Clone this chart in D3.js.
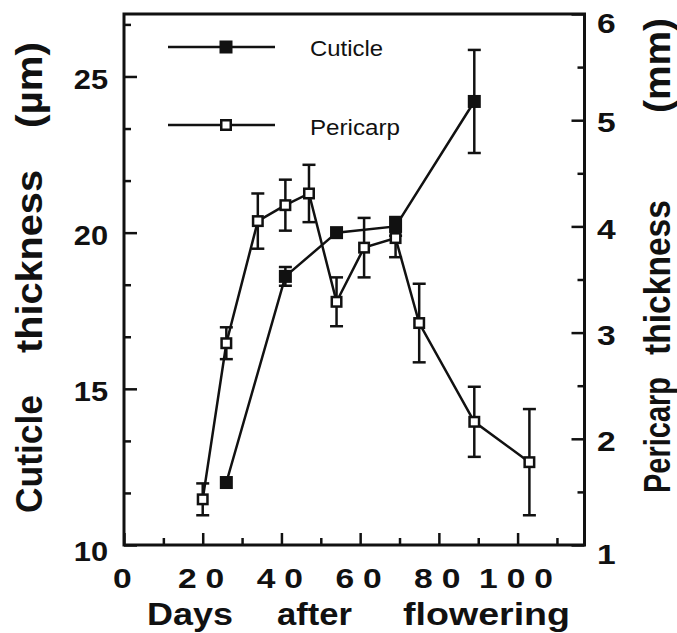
<!DOCTYPE html>
<html>
<head>
<meta charset="utf-8">
<script src="https://cdn.jsdelivr.net/npm/d3@7"></script>
<style>
  body { margin: 0; background: #fff; }
  svg { display: block; }
</style>
</head>
<body>
<svg id="chart" width="677" height="633"></svg>
<script>
// values
var pericarpDays = [20, 26, 34, 41, 47, 54, 61, 69, 75, 89, 103];
var pericarpMm   = [1.43, 2.90, 4.05, 4.20, 4.31, 3.29, 3.80, 3.89, 3.09, 2.16, 1.78];
var pericarpErr  = [0.15, 0.15, 0.26, 0.24, 0.27, 0.23, 0.28, 0.18, 0.37, 0.33, 0.50];

var cuticleDays = [26, 41, 54, 69, 89];
var cuticleUm   = [12.0, 18.6, 20.0, 20.2, 24.2];
var cuticleErr  = [0, 0.3, 0, 0.3, 1.65];

var xTicks = [0, 20, 40, 60, 80, 100];
var xMinor = [10, 30, 50, 70, 90, 110];
var leftTicks = [10, 15, 20, 25];
var leftMinor = [11.667, 13.333, 16.667, 18.333, 21.667, 23.333, 26.667];
var rightTicks = [1, 2, 3, 4, 5, 6];
var rightMinor = [1.5, 2.5, 3.5, 4.5, 5.5];

var font = "'Liberation Sans', Arial, Helvetica, sans-serif";

(function() {
    const svg = d3.select("#chart");

    // scales (plot box 124..584.5 x 14..545)
    const x = d3.scaleLinear().domain([0, 117]).range([124, 584.5]);
    const yL = d3.scaleLinear().domain([10, 27]).range([545, 14]);
    const yR = d3.scaleLinear().domain([1, 6]).range([545, 14]);

    // minor ticks first
    function minor(axis, ticks, size, tr) {
        const g = svg.append("g").attr("transform", tr)
            .call(axis.tickValues(ticks).tickSizeInner(-size).tickSizeOuter(0).tickFormat(""));
        g.select(".domain").remove();
        g.selectAll("line").attr("stroke", "#111").attr("stroke-width", 2.5);
    }
    minor(d3.axisBottom(x), xMinor, 7, "translate(0,545)");
    minor(d3.axisLeft(yL), leftMinor, 7, "translate(124,0)");
    minor(d3.axisRight(yR), rightMinor, 7, "translate(584.5,0)");

    // x axis
    const gx = svg.append("g").attr("transform", "translate(0,545)")
        .call(d3.axisBottom(x).tickValues(xTicks).tickFormat(d3.format("d"))
            .tickSizeInner(-12).tickSizeOuter(0).tickPadding(23));
    gx.select(".domain").remove();
    gx.selectAll("line").attr("stroke", "#111").attr("stroke-width", 2.5);
    gx.selectAll("text")
        .attr("font-family", font).attr("font-size", 28).attr("font-weight", "bold")
        .attr("fill", "#111")
        .attr("letter-spacing", 7.5)
        .attr("dx", 2)
        .attr("transform", "scale(1.2,1)");

    // left axis
    const gl = svg.append("g").attr("transform", "translate(124,0)")
        .call(d3.axisLeft(yL).tickValues(leftTicks).tickFormat(d3.format("d"))
            .tickSizeInner(-13).tickSizeOuter(0).tickPadding(16));
    gl.select(".domain").remove();
    gl.selectAll("line").attr("stroke", "#111").attr("stroke-width", 2.5);
    gl.selectAll("text")
        .attr("font-family", font).attr("font-size", 28).attr("font-weight", "bold")
        .attr("fill", "#111")
        .attr("x", -16 / 1.1)
        .attr("dy", d => d === 10 ? "0.55em" : "0.42em")
        .attr("transform", "scale(1.1,1)");

    // right axis
    const gr = svg.append("g").attr("transform", "translate(584.5,0)")
        .call(d3.axisRight(yR).tickValues(rightTicks).tickFormat(d3.format("d"))
            .tickSizeInner(-13).tickSizeOuter(0).tickPadding(12.5));
    gr.select(".domain").remove();
    gr.selectAll("line").attr("stroke", "#111").attr("stroke-width", 2.5);
    gr.selectAll("text")
        .attr("font-family", font).attr("font-size", 28).attr("font-weight", "bold")
        .attr("fill", "#111")
        .attr("x", 12.5 / 1.2)
        .attr("dy", d => (d === 6 || d === 1) ? "0.66em" : "0.42em")
        .attr("transform", "scale(1.2,1)");

    // frame
    svg.append("rect")
        .attr("x", x(0)).attr("y", yL(27))
        .attr("width", x(117) - x(0)).attr("height", yL(10) - yL(27))
        .attr("fill", "none").attr("stroke", "#111").attr("stroke-width", 3);

    const per = pericarpDays.map((d, i) => ({ d: d, v: pericarpMm[i], e: pericarpErr[i] }));
    const cut = cuticleDays.map((d, i) => ({ d: d, v: cuticleUm[i], e: cuticleErr[i] }));

    const lineP = d3.line().x(p => x(p.d)).y(p => yR(p.v));
    const lineC = d3.line().x(p => x(p.d)).y(p => yL(p.v));

    svg.append("path").datum(per).attr("d", lineP)
        .attr("fill", "none").attr("stroke", "#111").attr("stroke-width", 2.5);
    svg.append("path").datum(cut).attr("d", lineC)
        .attr("fill", "none").attr("stroke", "#111").attr("stroke-width", 2.5);

    function errorBars(data, y) {
        const g = svg.append("g").attr("stroke", "#111").attr("stroke-width", 2.5);
        const bars = g.selectAll("g").data(data.filter(p => p.e > 0)).enter().append("g");
        bars.append("line")
            .attr("x1", p => x(p.d)).attr("x2", p => x(p.d))
            .attr("y1", p => y(p.v - p.e)).attr("y2", p => y(p.v + p.e));
        bars.append("line")
            .attr("x1", p => x(p.d) - 6.5).attr("x2", p => x(p.d) + 6.5)
            .attr("y1", p => y(p.v + p.e)).attr("y2", p => y(p.v + p.e));
        bars.append("line")
            .attr("x1", p => x(p.d) - 6.5).attr("x2", p => x(p.d) + 6.5)
            .attr("y1", p => y(p.v - p.e)).attr("y2", p => y(p.v - p.e));
    }
    errorBars(per, yR);
    errorBars(cut, yL);

    // cuticle: filled squares, pericarp: open squares
    svg.append("g").selectAll("rect").data(cut).enter().append("rect")
        .attr("x", p => x(p.d) - 6.5).attr("y", p => yL(p.v) - 6.5)
        .attr("width", 13).attr("height", 13).attr("fill", "#111");

    svg.append("g").selectAll("rect").data(per).enter().append("rect")
        .attr("x", p => x(p.d) - 4.75).attr("y", p => yR(p.v) - 4.75)
        .attr("width", 9.5).attr("height", 9.5)
        .attr("fill", "#fff").attr("stroke", "#111").attr("stroke-width", 2.5);

    // legend
    const legend = svg.append("g");
    legend.append("line").attr("x1", 168).attr("x2", 275).attr("y1", 47).attr("y2", 47)
        .attr("stroke", "#111").attr("stroke-width", 2.5);
    legend.append("rect").attr("x", 226 - 6.5).attr("y", 47 - 6.5).attr("width", 13).attr("height", 13)
        .attr("fill", "#111");
    legend.append("line").attr("x1", 168).attr("x2", 275).attr("y1", 125).attr("y2", 125)
        .attr("stroke", "#111").attr("stroke-width", 2.5);
    legend.append("rect").attr("x", 226 - 4.75).attr("y", 125 - 4.75).attr("width", 9.5).attr("height", 9.5)
        .attr("fill", "#fff").attr("stroke", "#111").attr("stroke-width", 2.5);
    legend.append("text").attr("x", 310).attr("y", 56).text("Cuticle")
        .attr("font-family", font).attr("font-size", 22).attr("fill", "#111")
        .attr("textLength", 73).attr("lengthAdjust", "spacingAndGlyphs");
    legend.append("text").attr("x", 310).attr("y", 135).text("Pericarp")
        .attr("font-family", font).attr("font-size", 22).attr("fill", "#111")
        .attr("textLength", 90).attr("lengthAdjust", "spacingAndGlyphs");

    // axis titles
    function word(g, str, pos, len) {
        g.append("text").attr("x", pos).attr("y", 0).text(str)
            .attr("textLength", len).attr("lengthAdjust", "spacingAndGlyphs");
    }
    const xt = svg.append("g").attr("transform", "translate(0,625)")
        .attr("font-family", font).attr("font-size", 32).attr("font-weight", "bold").attr("fill", "#111");
    word(xt, "Days", 147, 86);
    word(xt, "after", 277, 75);
    word(xt, "flowering", 403, 167);

    // rotated titles: g origin on the baseline
    const lt = svg.append("g").attr("transform", "translate(42,0) scale(1.18,1) rotate(-90)")
        .attr("font-family", font).attr("font-size", 32).attr("font-weight", "bold").attr("fill", "#111");
    word(lt, "Cuticle", -513, 118);
    word(lt, "thickness", -353, 183);
    word(lt, "(\u00b5m)", -128, 86);

    const rt = svg.append("g").attr("transform", "translate(670,0) scale(1.18,1) rotate(-90)")
        .attr("font-family", font).attr("font-size", 32).attr("font-weight", "bold").attr("fill", "#111");
    word(rt, "Pericarp", -493, 116);
    word(rt, "thickness", -355, 155);
    word(rt, "(mm)", -113, 95);
})();
</script>
</body>
</html>
